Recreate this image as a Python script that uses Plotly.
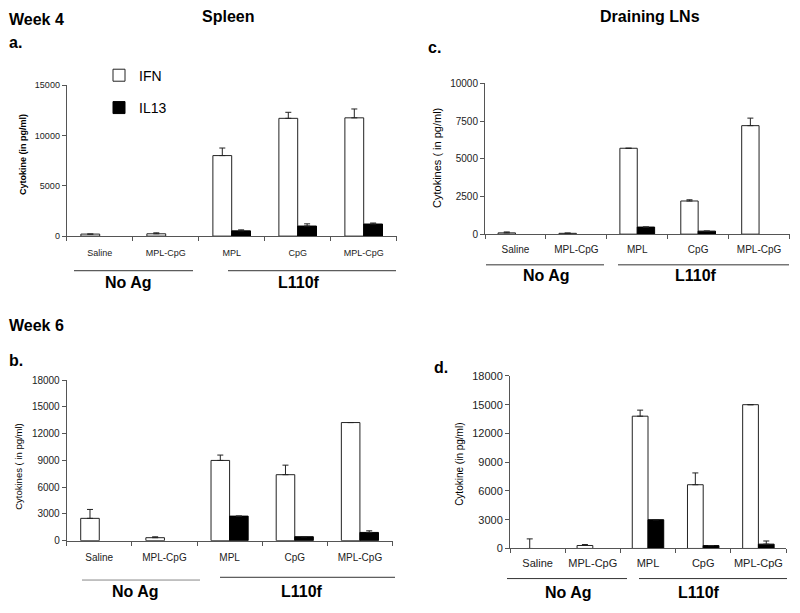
import plotly.graph_objects as go

# ---------------- data ----------------
categories = ["Saline", "MPL-CpG", "MPL", "CpG", "MPL-CpG"]
series_names = ["IFN", "IL13"]

# a. Week 4, Spleen
ifn_a = [200, 230, 8000, 11700, 11750]
ifn_a_err = [0, 95, 750, 600, 880]
il13_a = [0, 0, 520, 1000, 1200]
il13_a_err = [0, 0, 100, 220, 100]

# c. Week 4, Draining LNs
ifn_c = [85, 55, 5700, 2200, 7200]
ifn_c_err = [60, 20, 0, 80, 500]
il13_c = [0, 0, 470, 200, 0]
il13_c_err = [0, 0, 0, 0, 0]

# b. Week 6, Spleen
ifn_b = [2500, 330, 9000, 7400, 13250]
ifn_b_err = [1000, 100, 600, 1070, 0]
il13_b = [0, 0, 2750, 440, 920]
il13_b_err = [0, 0, 0, 0, 180]

# d. Week 6, Draining LNs
ifn_d = [0, 310, 13800, 6650, 15000]
ifn_d_err = [1000, 100, 630, 1230, 0]
il13_d = [0, 0, 3000, 300, 450]
il13_d_err = [0, 0, 0, 0, 330]

group_labels = ["No Ag", "L110f"]

# ---------------- layout helpers ----------------
W, H = 800, 613
FONT = "Arial, Liberation Sans, sans-serif"
AX = "#555555"
x_idx = list(range(len(categories)))
bounds = [i - 0.5 for i in range(len(categories) + 1)]


def px(x):
    return x / W


def py(y):
    return 1 - y / H


def drawn(vals, err):
    """keep only points that have a bar or an error bar to draw"""
    keep = [i for i in x_idx if vals[i] > 0 or err[i] > 0]
    return keep, [vals[i] for i in keep], [err[i] for i in keep]


panels = [
    dict(ax="", ifn=ifn_a, ifn_e=ifn_a_err, il=il13_a, il_e=il13_a_err,
         xd=(66.7, 396.7), yd=(234.7, 80.7), ymax=15000, dtick=5000, tf=9, cf=9, so=8, legend=True),
    dict(ax="2", ifn=ifn_c, ifn_e=ifn_c_err, il=il13_c, il_e=il13_c_err,
         xd=(485, 789.5), yd=(232.7, 79), ymax=10000, dtick=2500, tf=10, cf=10, so=6, legend=False),
    dict(ax="3", ifn=ifn_b, ifn_e=ifn_b_err, il=il13_b, il_e=il13_b_err,
         xd=(66.7, 392.5), yd=(545.3, 381.7), ymax=18000, dtick=3000, tf=10, cf=10, so=7, legend=False),
    dict(ax="4", ifn=ifn_d, ifn_e=ifn_d_err, il=il13_d, il_e=il13_d_err,
         xd=(510, 786), yd=(553.3, 377.3), ymax=18000, dtick=3000, tf=11, cf=11, so=4, legend=False),
]

fig = go.Figure()
layout_axes = {}
for p in panels:
    a = p["ax"]
    err_style = dict(type="data", symmetric=False, color="#222222", thickness=1, width=3)
    for name, vals, err, fill, leg in [
        (series_names[0], p["ifn"], p["ifn_e"], "white", "legend"),
        (series_names[1], p["il"], p["il_e"], "black", "legend2"),
    ]:
        xs, ys, es = drawn(vals, err)
        fig.add_trace(go.Bar(
            x=xs, y=ys, name=name,
            marker=dict(color=fill, line=dict(color="#222222" if fill == "white" else "black",
                                              width=[1 if v > 0 else 0 for v in ys])),
            error_y=dict(array=es, arrayminus=[0] * len(es), **err_style),
            xaxis="x" + a, yaxis="y" + a, showlegend=p["legend"], legend=leg,
        ))
    layout_axes["xaxis" + a] = dict(
        domain=[px(p["xd"][0]), px(p["xd"][1])], anchor="y" + a,
        range=[-0.5, len(categories) - 0.5], tickmode="array",
        tickvals=x_idx, ticktext=categories, ticks="",
        showline=True, linecolor=AX, linewidth=1, showgrid=False, zeroline=False,
        tickfont=dict(family=FONT, size=p["cf"], color="#222222"),
        ticklabelstandoff=p["so"],
        minor=dict(tickmode="array", tickvals=bounds, ticks="outside", ticklen=4,
                   tickcolor=AX, showgrid=False),
        fixedrange=True,
    )
    layout_axes["yaxis" + a] = dict(
        domain=[py(p["yd"][0]), py(p["yd"][1])], anchor="x" + a,
        range=[0, p["ymax"]], dtick=p["dtick"], tick0=0, tickformat="d",
        ticks="outside", ticklen=4, tickcolor=AX,
        showline=True, linecolor=AX, linewidth=1, showgrid=False, zeroline=False,
        tickfont=dict(family=FONT, size=p["tf"], color="#222222"),
        fixedrange=True,
    )

annotations = []


def text(x, y, s, size, bold=False, xanchor="center", angle=0, color="black"):
    annotations.append(dict(
        x=px(x), y=py(y), xref="paper", yref="paper", text=("<b>%s</b>" % s) if bold else s,
        showarrow=False, xanchor=xanchor, yanchor="middle", textangle=angle,
        font=dict(family=FONT, size=size, color=color),
    ))


# headers
text(7, 14, "Week 4", 16, True, "left")
text(228, 11, "Spleen", 16, True)
text(650, 11, "Draining LNs", 16, True)
text(7, 37, "a.", 16, True, "left")
text(426, 42, "c.", 16, True, "left")
text(7, 326, "Week 6", 16, True, "left")
text(7, 362, "b.", 16, True, "left")
text(432, 369, "d.", 16, True, "left")

# y axis titles
text(23, 152, "Cytokine (in pg/ml)", 9, True, angle=-90)
text(437, 155, "Cytokines ( in pg/ml)", 11, False, angle=-90)
text(19, 470, "Cytokines ( in pg/ml)", 9.5, False, angle=-90)
text(460, 467, "Cytokine (in pg/ml)", 10, False, angle=-90)

# group brackets: (x0, x1, y_line, label_x, label_y, line color)
brackets = [
    (74, 193, 270, 128, 282, "#333333"), (228, 396, 270, 299, 282, "#333333"),
    (486, 604, 264, 546, 275, "#333333"), (618, 789, 264, 696, 275, "#333333"),
    (82, 200, 585.5, 135, 597, "#888888"), (220, 395, 582.7, 302, 597, "#333333"),
    (507, 627, 584, 568, 598, "#333333"), (639, 787, 584, 699, 598, "#333333"),
]
shapes = []
for i, (x0, x1, yl, lx, ly, col) in enumerate(brackets):
    shapes.append(dict(type="line", xref="paper", yref="paper",
                       x0=px(x0), x1=px(x1), y0=py(yl), y1=py(yl),
                       line=dict(color=col, width=1)))
    text(lx, ly, group_labels[i % 2], 16, True)

legend_style = dict(bgcolor="rgba(0,0,0,0)", borderwidth=0, xanchor="left", yanchor="middle",
                    font=dict(family=FONT, size=14, color="black"))
fig.update_layout(
    width=W, height=H, margin=dict(l=0, r=0, t=0, b=0),
    paper_bgcolor="white", plot_bgcolor="white",
    barmode="group", bargap=0.43, bargroupgap=0,
    legend=dict(x=px(99), y=py(71), **legend_style),
    legend2=dict(x=px(99), y=py(104), **legend_style),
    annotations=annotations, shapes=shapes,
    **layout_axes,
)

fig.write_html("out.html", config={"displayModeBar": False},
               post_script="document.body.style.margin='0';document.body.style.overflow='hidden';")
